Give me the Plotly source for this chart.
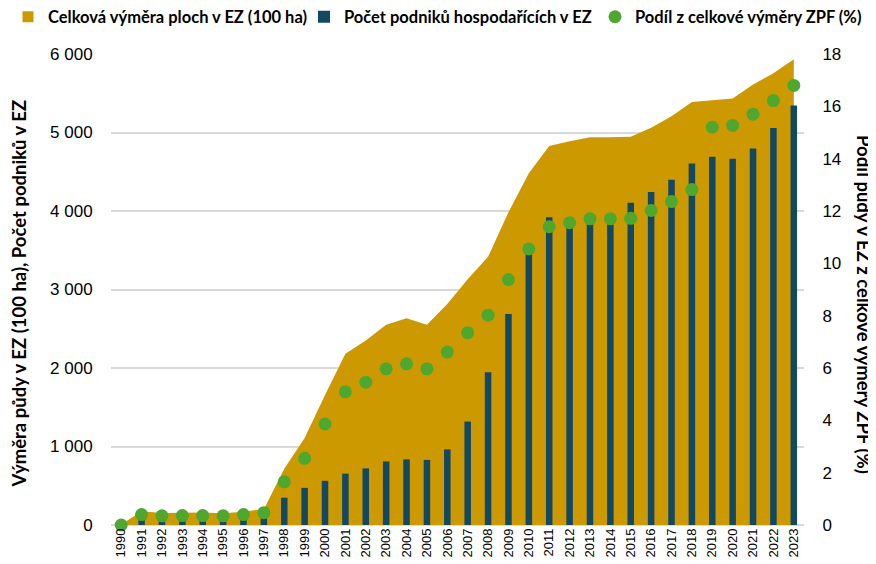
import plotly.graph_objects as go

years = [str(y) for y in range(1990, 2024)]

# Celková výměra ploch v EZ (100 ha)
area = [5, 175, 154, 157, 158, 150, 170, 202, 716, 1108, 1657, 2180, 2351, 2550, 2633, 2550, 2815,
        3129, 3416, 3984, 4482, 4829, 4887, 4939, 4940, 4947, 5061, 5208, 5389, 5411, 5434,
        5613, 5754, 5932]

# Počet podniků hospodařících v EZ
farms = [3, 132, 135, 141, 187, 181, 182, 211, 348, 473, 563, 654, 721, 810, 836, 829, 963,
         1318, 1946, 2689, 3517, 3920, 3923, 3926, 3885, 4106, 4243, 4399, 4606, 4690, 4665,
         4797, 5057, 5345]

# Podíl z celkové výměry ZPF (%)
share = [0.0, 0.40, 0.35, 0.36, 0.36, 0.35, 0.40, 0.47, 1.65, 2.55, 3.86, 5.09, 5.46, 5.97, 6.16,
         5.97, 6.61, 7.35, 8.02, 9.38, 10.55, 11.40, 11.55, 11.70, 11.70, 11.72, 12.02,
         12.36, 12.82, 15.20, 15.27, 15.70, 16.22, 16.80]

GOLD = "#CC9A00"
NAVY = "#134862"
GREEN = "#4EA72E"
GRID = "#D9D9D9"

W, H = 868, 556  # page body adds an 8px margin

TITLE_FONT = dict(family="Lato, Noto Sans, sans-serif", size=18.5, color="#000000", weight="bold")
TICK_FONT = dict(family="Liberation Sans, Arial, sans-serif", size=17, color="#000000")
LEG_FONT = dict(family="Lato, Noto Sans, sans-serif", size=16.5, color="#000000", weight="bold")

fig = go.Figure()

fig.add_trace(go.Scatter(
    x=years, y=area, mode="none", fill="tozeroy", fillcolor=GOLD,
    yaxis="y", showlegend=False, name="Celková výměra ploch v EZ (100 ha)"))
fig.add_trace(go.Scatter(
    x=[None], y=[None], mode="markers", yaxis="y", legend="legend",
    marker=dict(symbol="square", size=11, color=GOLD),
    name="Celková výměra ploch v EZ (100 ha)"))

fig.add_trace(go.Bar(
    x=years, y=farms, marker=dict(color=NAVY, line=dict(width=0)), width=0.32,
    yaxis="y2", legend="legend2", name="Počet podniků hospodařících v EZ"))

fig.add_trace(go.Scatter(
    x=years, y=share, mode="markers", yaxis="y3", cliponaxis=False, legend="legend3",
    marker=dict(color=GREEN, size=13, line=dict(width=0)),
    name="Podíl z celkové výměry ZPF (%)"))


def leg(px):
    return dict(orientation="h", xref="container", yref="container",
                x=px / W, y=1 - 9 / H, xanchor="left", yanchor="middle",
                font=LEG_FONT, itemwidth=30, bgcolor="rgba(0,0,0,0)")


fig.update_layout(
    width=W, height=H,
    margin=dict(l=103, r=72, t=46, b=39),
    paper_bgcolor="white", plot_bgcolor="white",
    separators=", ",
    showlegend=True,
    legend=leg(0), legend2=leg(296), legend3=leg(587),
    xaxis=dict(type="category", range=[-0.5, 33.5], tickangle=-90,
               tickfont=dict(family="Liberation Sans, Arial, sans-serif", size=13, color="#000000"),
               showgrid=False, showline=False, zeroline=False, ticks="", automargin=False),
    yaxis=dict(range=[0, 6000], dtick=1000, tickformat=",d", tickfont=TICK_FONT,
               showgrid=True, gridcolor=GRID, gridwidth=1.5, zeroline=True, zerolinecolor=GRID,
               zerolinewidth=1.5, showline=False, ticks="outside", ticklen=14,
               tickcolor="rgba(0,0,0,0)", automargin=False),
    yaxis2=dict(range=[0, 6000], overlaying="y", visible=False),
    yaxis3=dict(range=[0, 18], dtick=2, overlaying="y", side="right", tickfont=TICK_FONT,
                showgrid=False, zeroline=False, showline=False, ticks="outside", ticklen=14,
                tickcolor="rgba(0,0,0,0)", automargin=False),
    annotations=[
        dict(text="Výměra půdy v EZ (100 ha), Počet podniků v EZ", xref="paper", yref="paper",
             x=(18 - 111) / 693, y=(525 - 293.5) / 471, textangle=-90, showarrow=False,
             font=TITLE_FONT, xanchor="center", yanchor="middle"),
        dict(text="Podíl půdy v EZ z celkové výměry ZPF (%)", xref="paper", yref="paper",
             x=(864 - 111) / 693, y=(525 - 304) / 471, textangle=90, showarrow=False,
             font=TITLE_FONT, xanchor="center", yanchor="middle"),
    ],
)

fig.write_html("out.html")
